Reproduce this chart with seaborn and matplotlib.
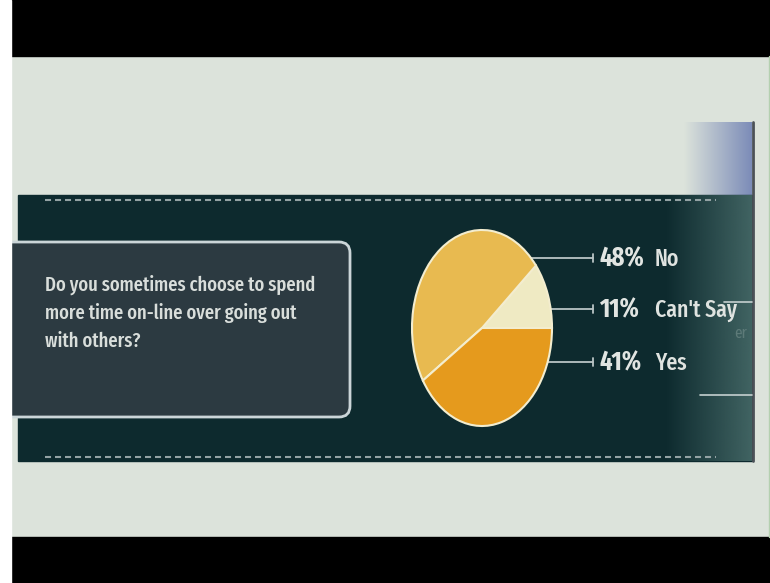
import numpy as np
import matplotlib
matplotlib.use("Agg")
import matplotlib.pyplot as plt
from matplotlib.patches import FancyBboxPatch, Rectangle
from matplotlib.colors import to_rgb
import seaborn as sns

# Survey question and answers
question_lines = [
    "Do you sometimes choose to spend",
    "more time on-line over going out",
    "with others?",
]
answers = ["Can't Say", "No", "Yes"]
shares = [11, 48, 41]
wedge_colors = ["#efeac3", "#e8ba50", "#e59a1d"]

sns.set_theme(style="white")
plt.rcParams["font.family"] = ["Fira Sans Extra Condensed", "Fira Sans Condensed",
                               "Asap Condensed", "DejaVu Sans"]

W, H = 770, 583
fig = plt.figure(figsize=(W / 100, H / 100), dpi=100)
bg = fig.add_axes([0, 0, 1, 1])
bg.set_xlim(0, W)
bg.set_ylim(H, 0)
bg.axis("off")

# slide backdrop with letterbox bars
bg.add_patch(Rectangle((11, 56), W - 11, 481, color="#dce3db", zorder=0))
bg.add_patch(Rectangle((11, 0), W - 11, 56, color="black", zorder=0))
bg.add_patch(Rectangle((11, 537), W - 11, 46, color="black", zorder=0))
bg.plot([768.5, 768.5], [56, 537], color="#b4d0b0", lw=1, zorder=1)


def hgrad(ax, x0, x1, y0, y1, c0, c1, a0=1.0, a1=1.0, z=1):
    t = np.linspace(0, 1, 128)[:, None]
    rgb = (1 - t) * np.array(to_rgb(c0)) + t * np.array(to_rgb(c1))
    alpha = (1 - t) * a0 + t * a1
    img = np.concatenate([rgb, alpha], axis=1)[None, :, :]
    ax.imshow(img, extent=(x0, x1, y1, y0), aspect="auto",
              interpolation="bilinear", zorder=z)


# blue tab above the band on the right
hgrad(bg, 684, 752, 122, 195, "#dce3db", "#7c8cb8", z=1)

# dark band
bg.add_patch(Rectangle((18, 195), 734, 266, color="#0d2a2e", zorder=2))
hgrad(bg, 665, 752, 195, 461, "#4a6e6c", "#4a6e6c", a0=0.0, a1=0.85, z=3)
bg.plot([753, 753], [122, 461], color="#4c5258", lw=2, zorder=4)

# dashed rules
for yy in (200, 457):
    bg.plot([45, 716], [yy, yy], color="#93a2a4", lw=1.5,
            dashes=(2.9, 1.9), zorder=4, solid_capstyle="butt")

# faint lines on the right
bg.plot([724, 752], [302, 302], color="#c5d0d0", lw=1.2, zorder=4)
bg.plot([700, 752], [395, 395], color="#c5d0d0", lw=1.2, zorder=4)
bg.text(734, 333, "er", color="#5d7a78", fontsize=12, va="center", zorder=4)

# question box
bg.add_patch(FancyBboxPatch((-20, 242), 370, 175,
                            boxstyle="round,pad=0,rounding_size=11",
                            fc="#2c3a41", ec="#cbd5d8", lw=2, zorder=5))
for i, line in enumerate(question_lines):
    bg.text(45, 285 + 28 * i, line, color="#d9dedb", fontsize=14.5,
            fontweight=500, va="center", ha="left", zorder=6)

# pie drawn as an ellipse
cx, cy, rx, ry = 482, 328, 70, 98
pad = 1.03
pax = fig.add_axes([(cx - rx * pad) / W, 1 - (cy + ry * pad) / H,
                    2 * rx * pad / W, 2 * ry * pad / H])
pax.set_zorder(2)
pax.pie(shares, colors=wedge_colors, startangle=0, counterclock=True,
        wedgeprops=dict(edgecolor="#f3edcf", linewidth=1.5))
pax.set_aspect("auto")
pax.set_xlim(-pad, pad)
pax.set_ylim(-pad, pad)
pax.axis("off")

# leader lines and value labels
label_rows = {"No": 258, "Can't Say": 309, "Yes": 362}
line_end = 593
for name, share in zip(answers, shares):
    yp = label_rows[name]
    v = (cy - yp) / ry
    xs = cx + rx * np.sqrt(1 - v * v)
    bg.plot([xs, line_end], [yp, yp], color="#b9c5c5", lw=1.3, zorder=6)
    bg.plot([line_end, line_end], [yp - 4, yp + 4], color="#b9c5c5",
            lw=1.3, zorder=6)
    bg.text(599, yp + 1, f"{share}%", color="#e1e5e2", fontsize=19,
            fontweight="bold", va="center", ha="left", zorder=7)
    bg.text(655, yp + 1, name, color="#dfe3e0", fontsize=17,
            fontweight=500, va="center", ha="left", zorder=7)

# white strip on the far left
bg.add_patch(Rectangle((0, 0), 11, H, color="white", zorder=10))

fig.savefig("out.png", dpi=100)
